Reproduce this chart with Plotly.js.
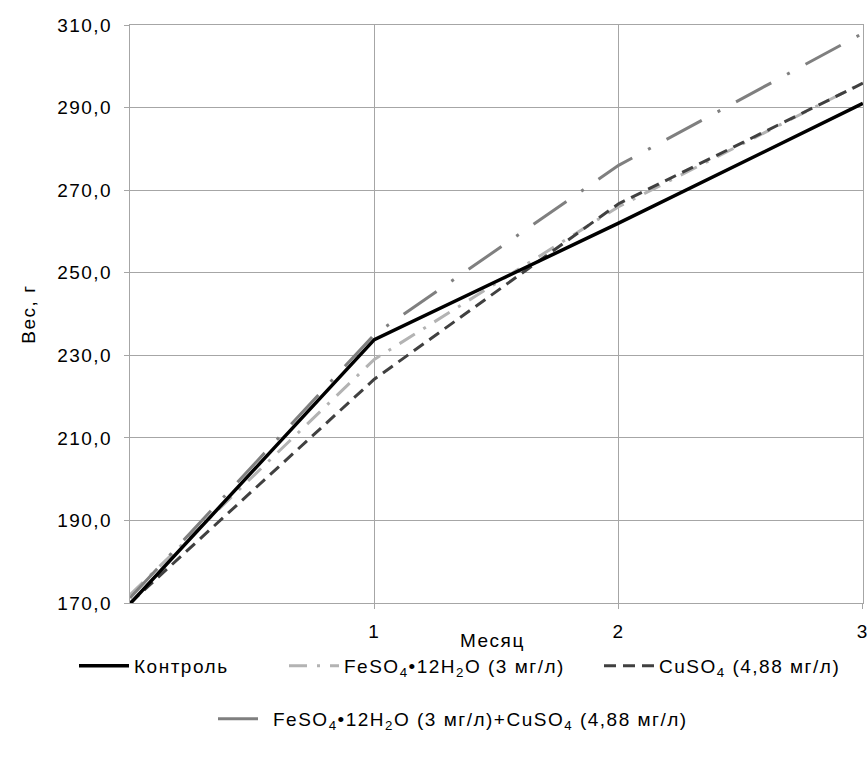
<!DOCTYPE html>
<html>
<head>
<meta charset="utf-8">
<script src="https://cdn.plot.ly/plotly-3.0.1.min.js"></script>
<style>
  html, body { margin: 0; padding: 0; background: #fff; }
  #chart { width: 868px; height: 758px; }
  text { letter-spacing: 1.5px; }
</style>
</head>
<body>
<div id="chart"></div>
<script>
// Data
const months = [0, 1, 2, 3];
const tickMonths = [1, 2, 3];
const tickMonthLabels = ['1', '2', '3'];

const seriesNames = [
  'Контроль',
  'FeSO<sub>4</sub>•12H<sub>2</sub>O (3 мг/л)',
  'CuSO<sub>4</sub> (4,88 мг/л)',
  'FeSO<sub>4</sub>•12H<sub>2</sub>O (3 мг/л)+CuSO<sub>4</sub> (4,88 мг/л)'
];
const xTitle = 'Месяц';
const yTitle = 'Вес, г';
const control = [169.8, 233.8, 262.0, 291.0];
const feso4 = [172.0, 229.0, 266.0, 296.0];
const cuso4 = [170.0, 224.2, 266.7, 295.9];
const combined = [171.2, 235.0, 276.0, 308.0];

const FONT = 'Liberation Sans, Arial, sans-serif';
const GRID = '#a6a6a6';
const FS = 19;

const traces = [
  {
    x: months, y: feso4, name: seriesNames[1], mode: 'lines',
    line: { color: '#b3b3b3', width: 3, dash: '18px,10px,3px,10px' },
    legend: 'legend2'
  },
  {
    x: months, y: combined, name: seriesNames[3], mode: 'lines',
    line: { color: '#7f7f7f', width: 3, dash: '40px,18px,3px,18px' },
    legend: 'legend4'
  },
  {
    x: months, y: cuso4, name: seriesNames[2], mode: 'lines',
    line: { color: '#404040', width: 3, dash: '12px,7px' },
    legend: 'legend3'
  },
  {
    x: months, y: control, name: seriesNames[0], mode: 'lines',
    line: { color: '#000000', width: 3.5 },
    legend: 'legend'
  }
];

function leg(xpx, ypx) {
  return {
    orientation: 'h',
    xref: 'container', yref: 'container',
    x: xpx / 868, xanchor: 'left', y: 1 - ypx / 758, yanchor: 'middle',
    itemwidth: 50,
    font: { family: FONT, size: FS, color: '#000' },
    bgcolor: 'rgba(0,0,0,0)'
  };
}

const layout = {
  width: 868, height: 758,
  margin: { l: 130, r: 5, t: 25, b: 155 },
  paper_bgcolor: '#ffffff', plot_bgcolor: '#ffffff',
  separators: ', ',
  font: { family: FONT, size: FS, color: '#000000' },
  showlegend: true,
  xaxis: {
    range: [0, 3.0005], tickvals: tickMonths, ticktext: tickMonthLabels,
    showgrid: true, gridcolor: GRID, gridwidth: 1,
    showline: true, linecolor: GRID, linewidth: 1, mirror: true,
    ticks: 'outside', ticklen: 5, tickcolor: GRID,
    zeroline: false, ticklabelstandoff: 6, ticklabeloverflow: 'allow',
    tickfont: { family: FONT, size: FS, color: '#000' }
  },
  yaxis: {
    range: [170, 310.0005], dtick: 20, tick0: 170, tickformat: '.1f',
    showgrid: true, gridcolor: GRID, gridwidth: 1,
    showline: true, linecolor: GRID, linewidth: 1, mirror: true,
    ticks: 'outside', ticklen: 5, tickcolor: GRID,
    zeroline: false, ticklabelstandoff: 8, ticklabeloverflow: 'allow',
    tickfont: { family: FONT, size: FS, color: '#000' },
    title: { text: yTitle, font: { family: FONT, size: FS, color: '#000' }, standoff: 16 }
  },
  annotations: [
    {
      text: xTitle, showarrow: false,
      xref: 'paper', yref: 'paper',
      x: (492 - 130) / 733, y: (603 - 641) / 578,
      xanchor: 'center', yanchor: 'middle',
      font: { family: FONT, size: FS, color: '#000' }
    }
  ],
  legend: leg(74, 666),
  legend2: leg(284, 666),
  legend3: leg(599, 666),
  legend4: leg(213, 719)
};

Plotly.newPlot('chart', traces, layout, { displayModeBar: false, staticPlot: true });
</script>
</body>
</html>
